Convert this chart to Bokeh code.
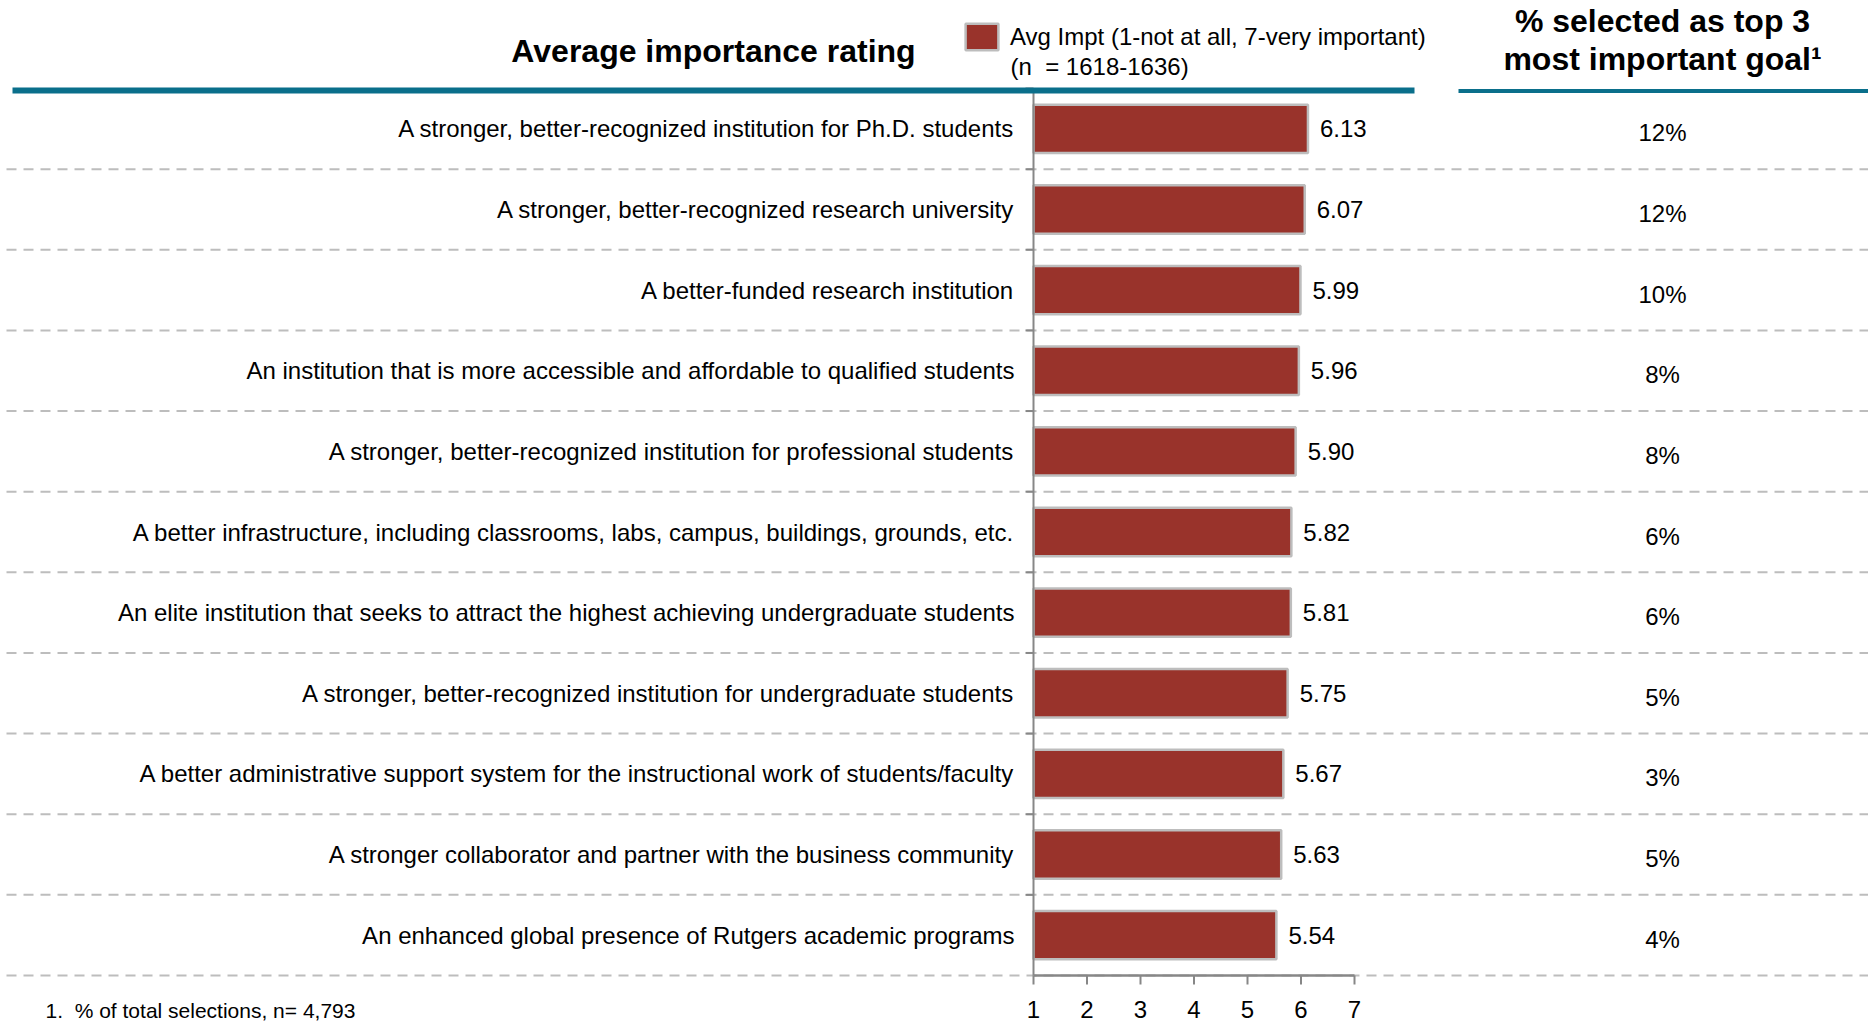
import math
from bokeh.plotting import figure
from bokeh.models import Range1d, Legend, LegendItem
from bokeh.core.properties import value
from bokeh.embed import file_html
from bokeh.resources import INLINE

# ---------------- data ----------------
categories = [
    "A stronger, better-recognized institution for Ph.D. students",
    "A stronger, better-recognized research university",
    "A better-funded research institution",
    "An institution that is more accessible and affordable to qualified students",
    "A stronger, better-recognized institution for professional students",
    "A better infrastructure, including classrooms, labs, campus, buildings, grounds, etc.",
    "An elite institution that seeks to attract the highest achieving undergraduate students",
    "A stronger, better-recognized institution for undergraduate students",
    "A better administrative support system for the instructional work of students/faculty",
    "A stronger collaborator and partner with the business community",
    "An enhanced global presence of Rutgers academic programs",
]
avg_importance = [6.13, 6.07, 5.99, 5.96, 5.90, 5.82, 5.81, 5.75, 5.67, 5.63, 5.54]
pct_top3 = ["12%", "12%", "10%", "8%", "8%", "6%", "6%", "5%", "3%", "5%", "4%"]
scale_ticks = [1, 2, 3, 4, 5, 6, 7]

# ---------------- layout constants ----------------
W, H = 1868, 1023
MARGIN = 0
X1_PAGE = 1033          # page x of rating 1
UNIT = 53.5             # px per rating unit
ROW_TOP_PAGE = 88
ROW_BOTTOM_PAGE = 975
n = len(categories)
ROW_H = (ROW_BOTTOM_PAGE - ROW_TOP_PAGE) / n

xs = 1 - (X1_PAGE - MARGIN) / UNIT
xe = xs + W / UNIT
ye = n + (ROW_TOP_PAGE - MARGIN) / ROW_H
ys = ye - H / ROW_H


def px_x(page_x):
    return xs + (page_x - MARGIN) / UNIT


def px_y(page_y):
    return ye - (page_y - MARGIN) / ROW_H


FONT_NAME = "Liberation Sans"
FONT = value(FONT_NAME)
BAR = "#99332B"
BAR_EDGE = "#BDBDBD"
TEAL = "#0A6F8B"
AXIS = "#878787"

row_y = [n - i - 0.5 for i in range(n)]
boundaries = list(range(n))

p = figure(width=W, height=H, x_range=Range1d(xs, xe), y_range=Range1d(ys, ye),
           output_backend="svg", toolbar_location=None, title=None,
           x_axis_type=None, y_axis_type=None, min_border=0,
           outline_line_color=None, background_fill_color="white",
           border_fill_color="white")
p.grid.visible = False

# dashed row separators
p.segment(x0=[px_x(6)] * len(boundaries), y0=boundaries,
          x1=[xe] * len(boundaries), y1=boundaries,
          line_color="#BDBDBD", line_width=2, line_dash="10 7")

# bars
bars = p.hbar(y=row_y, left=1, right=avg_importance, height=0.6,
              fill_color=BAR, line_color=BAR_EDGE, line_width=2.5)

# vertical axis + ticks at row boundaries
p.segment(x0=[1], y0=[0], x1=[1], y1=[n], line_color=AXIS, line_width=2)
p.ray(x=[1] * n, y=list(range(1, n + 1)), length=8, length_units="screen",
      angle=math.pi, line_color=AXIS, line_width=2)

# bottom axis line, ticks, labels
p.segment(x0=[scale_ticks[0]], y0=[0], x1=[scale_ticks[-1]], y1=[0],
          line_color=AXIS, line_width=2.5)
p.ray(x=scale_ticks, y=[0] * len(scale_ticks), length=9, length_units="screen",
      angle=-math.pi / 2, line_color=AXIS, line_width=2)
p.text(x=scale_ticks, y=[0] * len(scale_ticks), text=[str(t) for t in scale_ticks],
       y_offset=34, text_align="center", text_baseline="middle",
       text_font=FONT, text_font_size="24px", text_color="#000000")

# category labels
p.text(x=[1] * n, y=row_y, text=categories, x_offset=-19,
       text_align="right", text_baseline="middle",
       text_font=FONT, text_font_size="24px", text_color="#000000")

# value labels
p.text(x=avg_importance, y=row_y, text=[f"{v:.2f}" for v in avg_importance],
       x_offset=12, text_align="left", text_baseline="middle",
       text_font=FONT, text_font_size="24px", text_color="#000000")

# percent column
p.text(x=[px_x(1662)] * n, y=row_y, text=pct_top3, y_offset=4,
       text_align="center", text_baseline="middle",
       text_font=FONT, text_font_size="24px", text_color="#000000")

# headers
p.text(x=[px_x(713)], y=[px_y(50)], text=["Average importance rating"],
       text_align="center", text_baseline="middle", text_font=FONT,
       text_font_size="32px", text_font_style="bold", text_color="#000000")
p.text(x=[px_x(1662), px_x(1662)], y=[px_y(20), px_y(58)],
       text=["% selected as top 3", "most important goal\u00b9"],
       text_align="center", text_baseline="middle", text_font=FONT,
       text_font_size="32px", text_font_style="bold", text_color="#000000")

# teal header rules
p.segment(x0=[px_x(12)], y0=[px_y(90)], x1=[px_x(1414)], y1=[px_y(90)],
          line_color=TEAL, line_width=6)
p.segment(x0=[px_x(1458)], y0=[px_y(90.5)], x1=[xe], y1=[px_y(90.5)],
          line_color=TEAL, line_width=4)

# legend (bar legend glyph is drawn inset by 10% on each side)
legend = Legend(items=[LegendItem(label="Avg Impt (1-not at all, 7-very important)",
                                  renderers=[bars])],
                location=(961 - MARGIN, H - (20 - MARGIN) - 33),
                glyph_width=41, glyph_height=33, label_height=33,
                label_standoff=8, padding=0, margin=0, spacing=0,
                border_line_alpha=0, background_fill_alpha=0,
                label_text_font=FONT_NAME, label_text_font_size="24px",
                label_text_color="#000000")
p.add_layout(legend)
p.text(x=[px_x(1010)], y=[px_y(66)], text=["(n\u00a0 = 1618-1636)"],
       text_align="left", text_baseline="middle", text_font=FONT,
       text_font_size="24px", text_color="#000000")

# footnote
p.text(x=[px_x(45)], y=[px_y(1010)], text=["1.\u00a0 % of total selections, n= 4,793"],
       text_align="left", text_baseline="middle", text_font=FONT,
       text_font_size="21px", text_color="#000000")

open("out.html", "w").write(file_html(p, INLINE))
